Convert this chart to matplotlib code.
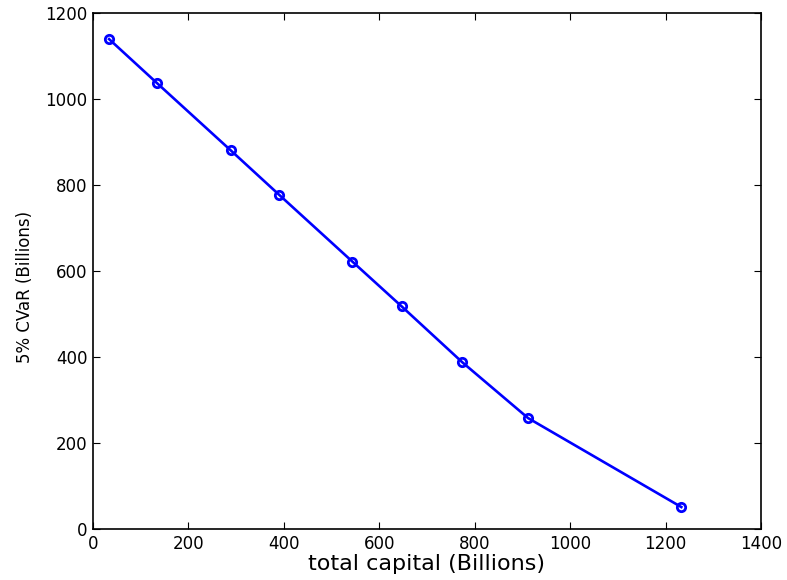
import matplotlib
matplotlib.use("Agg")
import matplotlib.pyplot as plt

plt.rcParams['font.family'] = ['DejaVu Sans']

# total capital vs. 5% CVaR (Billions)
total_capital = [34, 135, 289, 390, 544, 647, 774, 912, 1233]
cvar_5pct = [1140, 1037, 881, 778, 622, 518, 388, 258, 51]

x_ticks = [0, 200, 400, 600, 800, 1000, 1200, 1400]
y_ticks = [0, 200, 400, 600, 800, 1000, 1200]

fig = plt.figure(figsize=(7.87, 5.8), dpi=100)
ax = fig.add_axes([0.118, 0.088, 0.849, 0.889])

ax.plot(total_capital, cvar_5pct, color='#0000ff', linewidth=1.9,
        marker='o', markersize=6, markerfacecolor='none',
        markeredgecolor='#0000ff', markeredgewidth=2)

ax.set_xlim(0, 1400)
ax.set_ylim(0, 1200)
ax.set_xticks(x_ticks)
ax.set_yticks(y_ticks)
ax.tick_params(direction='in', top=True, right=True, length=5,
               width=0.8, labelsize=12, pad=4)
for s in ax.spines.values():
    s.set_linewidth(1.2)

ax.set_xlabel('total capital (Billions)', fontsize=16, labelpad=1)
ax.set_ylabel('5% CVaR (Billions)', fontsize=12, labelpad=12)
ax.yaxis.set_label_coords(-0.088, 0.47)

fig.savefig('out.png', dpi=100)
